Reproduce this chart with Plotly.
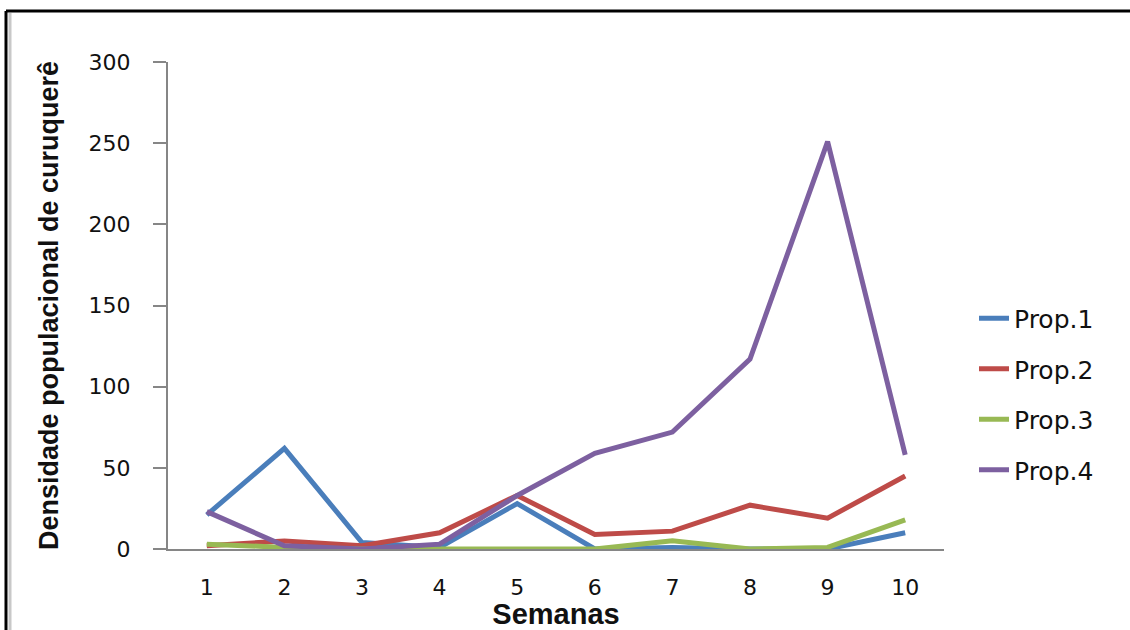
import plotly.graph_objects as go

semanas = [1, 2, 3, 4, 5, 6, 7, 8, 9, 10]
week_labels = ["1", "2", "3", "4", "5", "6", "7", "8", "9", "10"]
prop1 = [21, 62, 4, 1, 28, 0, 1, 0, 0, 10]
prop2 = [2, 5, 2, 10, 33, 9, 11, 27, 19, 45]
prop3 = [3, 1, 0, 0, 0, 0, 5, 0, 1, 18]
prop4 = [23, 2, 0, 3, 33, 59, 72, 117, 251, 58]
series_names = ["Prop.1", "Prop.2", "Prop.3", "Prop.4"]
series_colors = ["#4A7EBB", "#BE4B48", "#98B954", "#7D60A0"]

fig = go.Figure()
for name, vals, col in zip(series_names, [prop1, prop2, prop3, prop4], series_colors):
    fig.add_trace(go.Scatter(
        x=semanas, y=vals, name=name, mode="lines", legendgroup=name,
        line=dict(color=col, width=5),
    ))

W, H = 776, 487
fig.update_layout(
    width=1130, height=630,
    margin=dict(l=168, r=186, t=62, b=81),
    plot_bgcolor="white", paper_bgcolor="white",
    showlegend=True,
    legend=dict(
        xref="container", yref="container", x=974 / 1130, y=1 - 394 / 630,
        xanchor="left", yanchor="middle",
        font=dict(family="DejaVu Sans", size=25, color="#111111"),
        tracegroupgap=15, bgcolor="rgba(0,0,0,0)",
    ),
    xaxis=dict(
        automargin=False,
        range=[0.5, 10.5], tickmode="array", tickvals=semanas, ticktext=week_labels,
        showgrid=False, zeroline=False, showline=True, linecolor="#868686", linewidth=2,
        ticks="", ticklabelstandoff=18,
        tickfont=dict(family="DejaVu Sans", size=22, color="#111111"),
        title=dict(text="<b>Semanas</b>", font=dict(family="Liberation Sans", size=29, color="#111111"), standoff=0),
    ),
    yaxis=dict(
        automargin=False,
        range=[0, 300], tickmode="array", tickvals=[0, 50, 100, 150, 200, 250, 300],
        showgrid=False, zeroline=False, showline=True, linecolor="#868686", linewidth=2,
        ticks="outside", ticklen=13, tickcolor="#868686", tickwidth=2, ticklabelstandoff=18,
        tickfont=dict(family="DejaVu Sans", size=22, color="#111111"),
        title=dict(text="<b>Densidade populacional de curuquerê</b>",
                   font=dict(family="Liberation Sans", size=27, color="#111111"),
                   standoff=22),
    ),
    shapes=[
        dict(type="line", xref="paper", yref="paper", x0=-162 / W, x1=962 / W,
             y0=538 / H, y1=538 / H, line=dict(color="black", width=3)),
        dict(type="line", xref="paper", yref="paper", x0=-162 / W, x1=-162 / W,
             y0=538 / H, y1=-81 / H, line=dict(color="black", width=3)),
        dict(type="line", xref="paper", yref="paper", x0=-158 / W, x1=-158 / W,
             y0=536 / H, y1=-81 / H, line=dict(color="#C8C8C8", width=3)),
    ],
)

fig.write_html("out.html")
